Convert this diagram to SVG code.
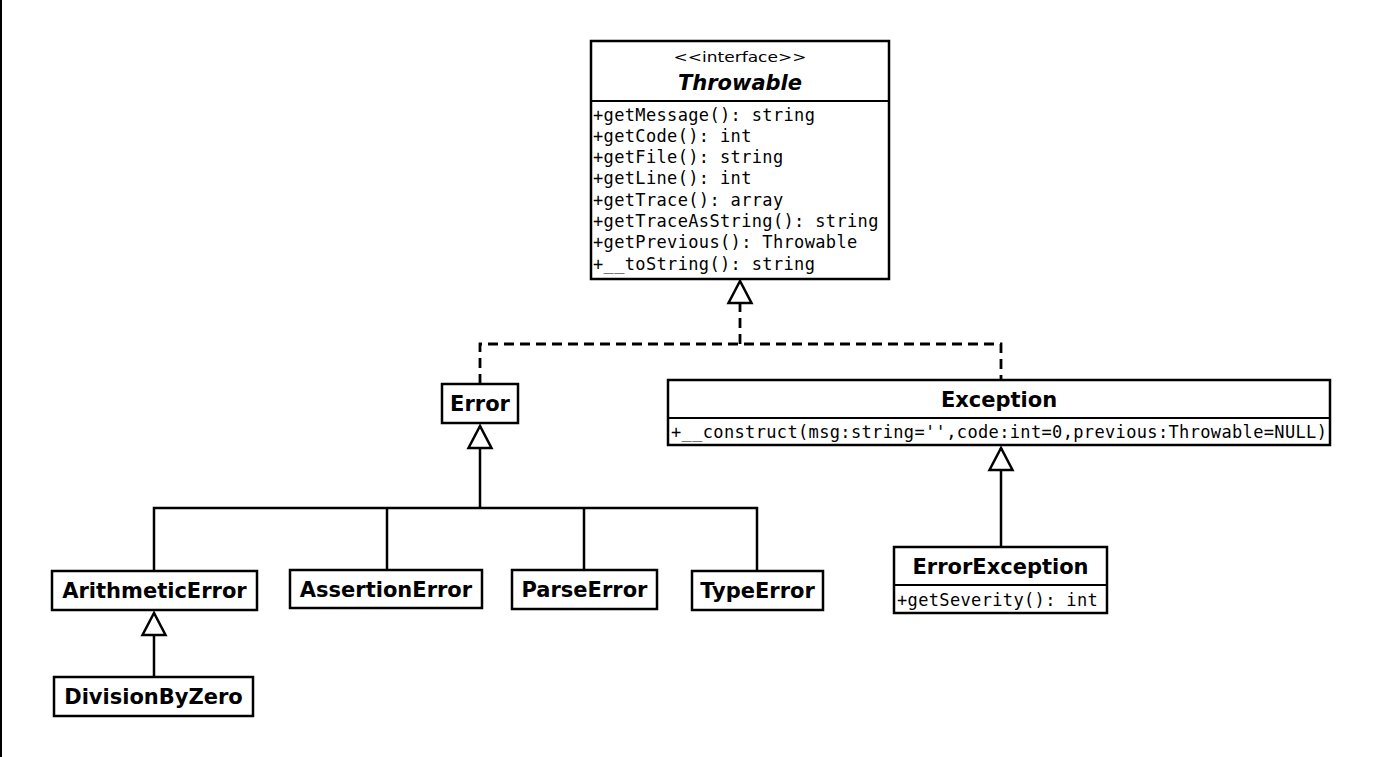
<svg xmlns="http://www.w3.org/2000/svg" width="1385" height="757" viewBox="0 0 1385 757">
<style>
.box{fill:#fff;stroke:#000;stroke-width:2.5}
.div{stroke:#000;stroke-width:2}
.name{font-family:"DejaVu Sans","Liberation Sans",sans-serif;font-weight:bold;font-size:21px;text-anchor:middle;fill:#000}
.iname{font-family:"DejaVu Sans","Liberation Sans",sans-serif;font-weight:bold;font-style:italic;font-size:21px;text-anchor:middle;fill:#000}
.stereo{font-family:"DejaVu Sans","Liberation Sans",sans-serif;font-size:14px;text-anchor:middle;fill:#000}
.mono{font-family:"DejaVu Sans Mono","Liberation Mono",monospace;font-size:17px;letter-spacing:0.35px;fill:#000}
.line{fill:none;stroke:#000;stroke-width:2.5}
.dash{fill:none;stroke:#000;stroke-width:2.8;stroke-dasharray:10 6}
.tri{fill:#fff;stroke:#000;stroke-width:2.5;stroke-dasharray:none}
</style>
<defs>
<marker id="gen" markerUnits="userSpaceOnUse" markerWidth="30" markerHeight="30" viewBox="0 0 30 30" refX="27" refY="15" orient="auto" overflow="visible">
<path class="tri" d="M27,15 L5,3.5 L5,26.5 Z"/>
</marker>
</defs>
<line x1="1" y1="0" x2="1" y2="757" stroke="#000" stroke-width="2"/>
<g id="connectors">
<path class="dash" d="M480,384 V344 H1001 V380"/>
<path class="dash" d="M740,344 V281" marker-end="url(#gen)"/>
<path class="line" d="M480,508 V426" marker-end="url(#gen)"/>
<path class="line" d="M154,571 V508 H757 V571"/>
<path class="line" d="M387,570 V508"/>
<path class="line" d="M584,570 V508"/>
<path class="line" d="M154,677 V613" marker-end="url(#gen)"/>
<path class="line" d="M1001,547 V448" marker-end="url(#gen)"/>
</g>
<g id="Throwable">
<rect class="box" x="591" y="41" width="298" height="238"/>
<line class="div" x1="591" y1="101" x2="889" y2="101"/>
<text class="stereo" x="740" y="62" textLength="133" lengthAdjust="spacingAndGlyphs">&lt;&lt;interface&gt;&gt;</text>
<text class="iname" x="740" y="90">Throwable</text>
<text class="mono" x="593" y="120.5">+getMessage(): string</text>
<text class="mono" x="593" y="141.8">+getCode(): int</text>
<text class="mono" x="593" y="163.1">+getFile(): string</text>
<text class="mono" x="593" y="184.4">+getLine(): int</text>
<text class="mono" x="593" y="205.7">+getTrace(): array</text>
<text class="mono" x="593" y="227">+getTraceAsString(): string</text>
<text class="mono" x="593" y="248.3">+getPrevious(): Throwable</text>
<text class="mono" x="593" y="269.6">+__toString(): string</text>
</g>
<g id="Error">
<rect class="box" x="442" y="384" width="76" height="39"/>
<text class="name" x="480" y="411">Error</text>
</g>
<g id="Exception">
<rect class="box" x="668" y="380" width="662" height="65"/>
<line class="div" x1="668" y1="418" x2="1330" y2="418"/>
<text class="name" x="999" y="407">Exception</text>
<text class="mono" x="671" y="437.5">+__construct(msg:string='',code:int=0,previous:Throwable=NULL)</text>
</g>
<g id="ErrorException">
<rect class="box" x="894" y="547" width="213" height="66"/>
<line class="div" x1="894" y1="585" x2="1107" y2="585"/>
<text class="name" x="1000.5" y="574">ErrorException</text>
<text class="mono" x="897" y="605.5">+getSeverity(): int</text>
</g>
<g id="ArithmeticError">
<rect class="box" x="52" y="571" width="205" height="39"/>
<text class="name" x="154.5" y="598">ArithmeticError</text>
</g>
<g id="AssertionError">
<rect class="box" x="290" y="570" width="192" height="38"/>
<text class="name" x="386" y="597">AssertionError</text>
</g>
<g id="ParseError">
<rect class="box" x="512" y="570" width="145" height="39"/>
<text class="name" x="584.5" y="597">ParseError</text>
</g>
<g id="TypeError">
<rect class="box" x="692" y="571" width="131" height="39"/>
<text class="name" x="757.5" y="598">TypeError</text>
</g>
<g id="DivisionByZero">
<rect class="box" x="54" y="677" width="199" height="39"/>
<text class="name" x="153.5" y="704">DivisionByZero</text>
</g>
</svg>
